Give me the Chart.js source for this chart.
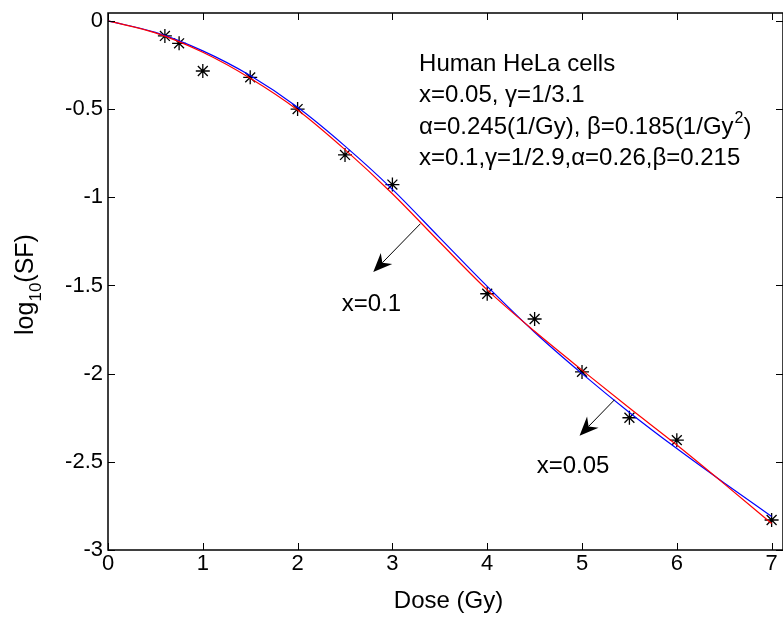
<!DOCTYPE html>
<html><head><meta charset="utf-8">
<script src="https://cdn.jsdelivr.net/npm/chart.js@4/dist/chart.umd.min.js"></script>
<style>html,body{margin:0;padding:0;background:#fff;}#wrap{width:783px;height:618px;}</style>
</head><body><div id="wrap"><canvas id="c" width="783" height="618"></canvas></div>
<script>
// ---- data ----
const doseGrid = [0, 0.5, 1, 1.5, 2, 2.5, 3, 3.5, 4, 4.5, 5, 5.5, 6, 6.5, 7];
const fitX005 = [0, -0.065, -0.17, -0.31, -0.49, -0.71, -0.955, -1.23, -1.505, -1.765, -2.0, -2.22, -2.425, -2.62, -2.81];
const fitX01  = [0, -0.068, -0.178, -0.325, -0.505, -0.73, -0.98, -1.255, -1.525, -1.76, -1.98, -2.195, -2.405, -2.625, -2.85];
const measuredDose  = [0.6, 0.75, 1, 1.5, 2, 2.5, 3, 4, 4.5, 5, 5.5, 6, 7];
const measuredLogSF = [-0.085, -0.127, -0.284, -0.32, -0.50, -0.76, -0.928, -1.547, -1.69, -1.99, -2.25, -2.377, -2.83];
const xTicks = [0, 1, 2, 3, 4, 5, 6, 7];
const yTicks = [0, -0.5, -1, -1.5, -2, -2.5, -3];
const yTickLabels = ['0', '-0.5', '-1', '-1.5', '-2', '-2.5', '-3'];
const infoLines = ['Human HeLa cells', 'x=0.05, \u03B3=1/3.1', '\u03B1=0.245(1/Gy), \u03B2=0.185(1/Gy', 'x=0.1,\u03B3=1/2.9,\u03B1=0.26,\u03B2=0.215'];
const curveLabels = ['x=0.1', 'x=0.05'];
const xTitle = 'Dose (Gy)';

const FONT = '"Liberation Sans", Arial, sans-serif';
const toXY = (xs, ys) => xs.map((x, i) => ({x: x, y: ys[i]}));

const overlay = {
  id: 'overlay',
  afterDraw(chart) {
    const ctx = chart.ctx, a = chart.chartArea;
    const sx = chart.scales.x, sy = chart.scales.y;
    const px = v => sx.getPixelForValue(v), py = v => sy.getPixelForValue(v);
    ctx.save();
    // box
    ctx.strokeStyle = '#000'; ctx.lineWidth = 1.5;
    ctx.strokeRect(a.left, a.top, a.right - a.left, a.bottom - a.top);
    // inward ticks
    ctx.lineWidth = 1;
    const tl = 7;
    xTicks.forEach(v => {
      const x = Math.round(px(v)) + 0.5;
      ctx.beginPath(); ctx.moveTo(x, a.bottom); ctx.lineTo(x, a.bottom - tl); ctx.stroke();
      ctx.beginPath(); ctx.moveTo(x, a.top); ctx.lineTo(x, a.top + tl); ctx.stroke();
    });
    yTicks.forEach(v => {
      const y = Math.round(py(v)) + 0.5;
      ctx.beginPath(); ctx.moveTo(a.left, y); ctx.lineTo(a.left + tl, y); ctx.stroke();
      ctx.beginPath(); ctx.moveTo(a.right, y); ctx.lineTo(a.right - tl, y); ctx.stroke();
    });
    ctx.fillStyle = '#000';
    ctx.textBaseline = 'alphabetic';
    // x title
    ctx.font = '24px ' + FONT; ctx.textAlign = 'center';
    ctx.fillText(xTitle, (a.left + a.right) / 2 + 3, a.bottom + 58);
    // y title with subscript
    const cy = (a.top + a.bottom) / 2 + 3;
    ctx.translate(0, cy);
    ctx.rotate(-Math.PI / 2);
    ctx.textAlign = 'left';
    ctx.font = '25px ' + FONT;
    const w1 = ctx.measureText('log').width;
    ctx.font = '17px ' + FONT;
    const w2 = ctx.measureText('10').width;
    ctx.font = '25px ' + FONT;
    const w3 = ctx.measureText('(SF)').width;
    const x0 = -(w1 + w2 + w3) / 2;
    ctx.fillText('log', x0, 33);
    ctx.font = '17px ' + FONT;
    ctx.fillText('10', x0 + w1, 41);
    ctx.font = '25px ' + FONT;
    ctx.fillText('(SF)', x0 + w1 + w2, 33);
    ctx.setTransform(1, 0, 0, 1, 0, 0);

    // info text
    ctx.font = '24px ' + FONT;
    ctx.textAlign = 'left';
    const tx = px(3.281);
    const ty = [-0.284, -0.460, -0.641, -0.817];
    infoLines.forEach((t, i) => ctx.fillText(t, tx, py(ty[i])));
    const w = ctx.measureText(infoLines[2]).width;
    ctx.font = '16px ' + FONT;
    ctx.fillText('2', tx + w + 1, py(ty[2]) - 11);
    const ws = ctx.measureText('2').width;
    ctx.font = '24px ' + FONT;
    ctx.fillText(')', tx + w + ws + 1, py(ty[2]));

    // curve labels
    ctx.fillText(curveLabels[0], px(2.465), py(-1.643));
    ctx.fillText(curveLabels[1], px(4.522), py(-2.561));

    // arrows
    const arrow = (x1, y1, x2, y2) => {
      const X1 = px(x1), Y1 = py(y1), X2 = px(x2), Y2 = py(y2);
      const ang = Math.atan2(Y2 - Y1, X2 - X1);
      const L = 19, H = 8, N = 13;
      const c = Math.cos(ang), s = Math.sin(ang);
      ctx.strokeStyle = '#000'; ctx.lineWidth = 1;
      ctx.beginPath(); ctx.moveTo(X1, Y1);
      ctx.lineTo(X2 - N * c, Y2 - N * s); ctx.stroke();
      const bx = X2 - L * c, by = Y2 - L * s;
      ctx.beginPath();
      ctx.moveTo(X2, Y2);
      ctx.lineTo(bx - H * s, by + H * c);
      ctx.lineTo(X2 - N * c, Y2 - N * s);
      ctx.lineTo(bx + H * s, by - H * c);
      ctx.closePath();
      ctx.fillStyle = '#000'; ctx.fill();
    };
    arrow(3.295, -1.15, 2.798, -1.424);
    arrow(5.343, -2.148, 4.974, -2.352);
    ctx.restore();
  }
};

new Chart(document.getElementById('c'), {
  type: 'scatter',
  data: {
    datasets: [
      { label: 'x=0.1', data: toXY(doseGrid, fitX01), showLine: true, borderColor: '#ff0000', borderWidth: 1.2,
        pointRadius: 0, cubicInterpolationMode: 'monotone', fill: false },
      { label: 'x=0.05', data: toXY(doseGrid, fitX005), showLine: true, borderColor: '#0000ff', borderWidth: 1.2,
        pointRadius: 0, cubicInterpolationMode: 'monotone', fill: false },
      { label: 'data', data: toXY(measuredDose, measuredLogSF), showLine: false, pointStyle: 'star',
        pointRadius: 7, borderColor: '#000', backgroundColor: '#000', pointBorderWidth: 1.3 }
    ]
  },
  options: {
    responsive: false, animation: false, devicePixelRatio: 1,
    layout: { autoPadding: false, padding: { top: 13, right: 0, left: 0, bottom: 0 } },
    plugins: { legend: { display: false }, tooltip: { enabled: false } },
    scales: {
      x: {
        type: 'linear', min: 0, max: 7.12,
        afterBuildTicks: s => { s.ticks = xTicks.map(v => ({ value: v })); },
        afterFit: s => { s.height = 68; s.paddingRight = 0; s.paddingLeft = 0; },
        grid: { display: false, drawTicks: false }, border: { display: false },
        ticks: { font: { size: 22, family: FONT }, color: '#000', padding: 1, maxRotation: 0, autoSkip: false,
                 callback: v => String(v) }
      },
      y: {
        type: 'linear', min: -3, max: 0.045,
        afterBuildTicks: s => { s.ticks = yTicks.map(v => ({ value: v })); },
        afterFit: s => { s.width = 108; s.paddingTop = 0; s.paddingBottom = 0; },
        grid: { display: false, drawTicks: false }, border: { display: false },
        ticks: { font: { size: 22, family: FONT }, color: '#000', padding: 5, autoSkip: false,
                 callback: v => yTickLabels[yTicks.indexOf(v)] }
      }
    }
  },
  plugins: [overlay]
});
</script></body></html>
